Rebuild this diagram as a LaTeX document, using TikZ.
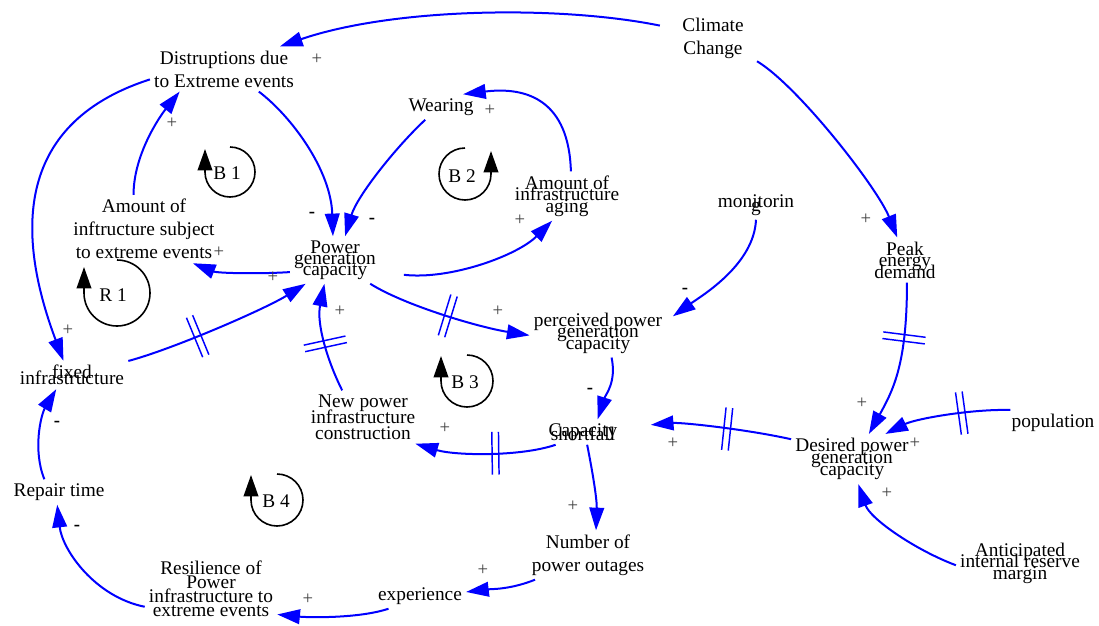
\documentclass[tikz,border=0pt]{standalone}
\usepackage{fontspec}
\setmainfont{Liberation Serif}
\usetikzlibrary{arrows.meta,decorations.markings}

\newcommand{\varfont}[1]{\fontsize{14.5}{#1}\selectfont\lineskiplimit=-50pt\lineskip=0pt}

\tikzstyle{var} = [align=center, inner sep=3pt, font=\varfont{17.3}]
\tikzstyle{line} = [draw, blue, line width=1.5pt, -{Triangle[length=17pt,width=11pt]}]
\tikzstyle{possign} = [inner sep=0pt, font=\fontsize{14}{14}\selectfont, text=black!75]
\tikzstyle{negsign} = [inner sep=0pt, font=\fontsize{14}{14}\selectfont\bfseries]
\tikzstyle{loopmark} = [draw, line width=1.2pt, -{Triangle[length=16pt,width=11pt]}]
\tikzstyle{looplabel} = [inner sep=1pt, font=\varfont{17}]
\tikzset{delay/.style={postaction={decorate, decoration={markings,
    mark=at position #1 with {\draw[-, blue, line width=1.1pt, shorten <=0pt, shorten >=0pt]
      (-2.5pt,-16pt) -- (-2.5pt,16pt) (2.5pt,-16pt) -- (2.5pt,16pt);}}}}}

\begin{document}
\begin{tikzpicture}[x=0.75pt, y=-0.75pt]
 \useasboundingbox (0,0) rectangle (1099,625);

 % variables
 \node[var] (cc) at (713,38) {Climate\\Change};
 \node[var] (dis) at (224,69) {Distruptions due\\to Extreme events};
 \node[var] (wear) at (441,107) {Wearing};
 \node[var, font=\varfont{8.6}] (aging) at (567,196) {Amount of\\infrastructure\\aging};
 \node[var, font=\varfont{3}] (mon) at (756,205) {monitorin\\g};
 \node[var, font=\varfont{8.6}] (peak) at (905,260) {Peak\\energy\\demand};
 \node[var] (ais) at (144,229) {Amount of\\inftructure subject\\to extreme events};
 \node[var, font=\varfont{8.3}] (pgc) at (335,260) {Power\\generation\\capacity};
 \node[var, font=\varfont{8.6}] (ppgc) at (598,333) {perceived power\\generation\\capacity};
 \node[var, font=\varfont{4.5}] (fi) at (72,375) {fixed\\infrastructure};
 \node[var, font=\varfont{12}] (npic) at (363,417) {New power\\infrastructure\\construction};
 \node[var, font=\varfont{3}] (cs) at (583,432) {Capacity\\shortfall};
 \node[var, font=\varfont{9}] (dpgc) at (852,459) {Desired power\\generation\\capacity};
 \node[var] (pop) at (1053,423) {population};
 \node[var, font=\varfont{8.6}] (air) at (1020,563) {Anticipated\\internal reserve\\margin};
 \node[var] (rt) at (59,492) {Repair time};
 \node[var] (nop) at (588,555) {Number of\\power outages};
 \node[var] (exp) at (420,596) {experience};
 \node[var, font=\varfont{10.5}] (res) at (211,589) {Resilience of\\Power\\infrastructure to\\extreme events};

 % causal links
 \path[line, shorten <=14pt] (cc.166) .. controls +(-118,-24) and +(114,-39) .. (dis.22);
 \path[line] (dis.-33) .. controls +(33,25) and +(-2,-66) .. (pgc.95);
 \path[line] (wear.-141) .. controls +(-30,28) and +(12,-40) .. (pgc.67);
 \path[line] (aging.81) .. controls +(-2,-70) and +(65,-8) .. (wear.30);
 \path[line, shorten <=18pt] (pgc.-15) .. controls +(70,8) and +(-35,35) .. (aging.-121);
 \path[line] (pgc.195) .. controls +(-30,2) and +(25,10) .. (ais.-35);
 \path[line] (ais.107) .. controls +(0,-40) and +(-20,25) .. (dis.207);
 \path[line] (dis.188) .. controls +(-140,45) and +(-45,-120) .. (fi.121);
 \path[line, delay=0.38] (fi.14) .. controls +(45,-12) and +(-40,25) .. (pgc.219);
 \path[line, delay=0.45] (npic.128) .. controls +(-15,-30) and +(-8,40) .. (pgc.246);
 \path[line, delay=0.5] (pgc.-34) .. controls +(35,22) and +(-50,-8) .. (ppgc.182);
 \path[line, shorten >=6pt] (mon.south) .. controls +(-2,45) and +(35,-25) .. (ppgc.10);
 \path[line] (ppgc.-61) .. controls +(5,25) and +(8,-25) .. (cs.41);
 \path[line, shorten <=8pt] (cc.-27) .. controls +(50,30) and +(-20,-50) .. (peak.109);
 \path[line, delay=0.35] (peak.-85) .. controls +(0,80) and +(25,-45) .. (dpgc.56);
 \path[line, delay=0.38] (pop.163) .. controls +(-40,-1) and +(30,-15) .. (dpgc.37);
 \path[line] (air.182) .. controls +(-40,-15) and +(12,35) .. (dpgc.-76);
 \path[line, delay=0.38, shorten >=22pt] (dpgc.162) .. controls +(-45,-10) and +(60,-5) .. (cs.7);
 \path[line, delay=0.43] (cs.205) .. controls +(-35,12) and +(40,12) .. (npic.-27);
 \path[line] (cs.-72) .. controls +(6,30) and +(1,-30) .. (nop.72);
 \path[line] (nop.205) .. controls +(-25,10) and +(25,-3) .. (exp.5);
 \path[line] (exp.202) .. controls +(-30,10) and +(30,3) .. (res.-21);
 \path[line] (res.195) .. controls +(-50,-10) and +(5,45) .. (rt.-98);
 \path[line] (rt.139) .. controls +(-12,-30) and +(-15,25) .. (fi.222);

 % polarities
 \node[possign] (p1) at (317,59) {+};
 \node[possign] (p2) at (172,123) {+};
 \node[possign] (p3) at (490,110) {+};
 \node[negsign] (n1) at (312,215) {-};
 \node[negsign] (n2) at (372,221) {-};
 \node[possign] (p4) at (520,220) {+};
 \node[possign] (p5) at (219,252) {+};
 \node[possign] (p6) at (273,277) {+};
 \node[possign] (p7) at (68,330) {+};
 \node[possign] (p8) at (340,311) {+};
 \node[possign] (p9) at (498,311) {+};
 \node[negsign] (n3) at (685,291) {-};
 \node[possign] (p10) at (866,219) {+};
 \node[negsign] (n4) at (590,391) {-};
 \node[possign] (p11) at (862,403) {+};
 \node[possign] (p12) at (915,443) {+};
 \node[possign] (p13) at (887,493) {+};
 \node[possign] (p14) at (673,443) {+};
 \node[possign] (p15) at (445,428) {+};
 \node[possign] (p16) at (573,506) {+};
 \node[possign] (p17) at (483,570) {+};
 \node[possign] (p18) at (308,599) {+};
 \node[negsign] (n5) at (77,528) {-};
 \node[negsign] (n6) at (57,424) {-};

 % loops
 \node[looplabel] (b1) at (227,173) {B 1};
 \draw[loopmark] (230,147) arc[start angle=-90, end angle=180, radius=25] -- ++(0,-23);
 \node[looplabel] (b2) at (462,176) {B 2};
 \draw[loopmark] (465,148) arc[start angle=-90, end angle=-360, radius=26] -- ++(0,-23);
 \node[looplabel] (r1) at (113,295) {R 1};
 \draw[loopmark] (117,260) arc[start angle=-90, end angle=180, radius=33] -- ++(0,-26);
 \node[looplabel] (b3) at (465,382) {B 3};
 \draw[loopmark] (467,355) arc[start angle=-90, end angle=180, radius=26] -- ++(0,-25);
 \node[looplabel] (b4) at (276,501) {B 4};
 \draw[loopmark] (277,474) arc[start angle=-90, end angle=180, radius=26] -- ++(0,-25);
\end{tikzpicture}
\end{document}
